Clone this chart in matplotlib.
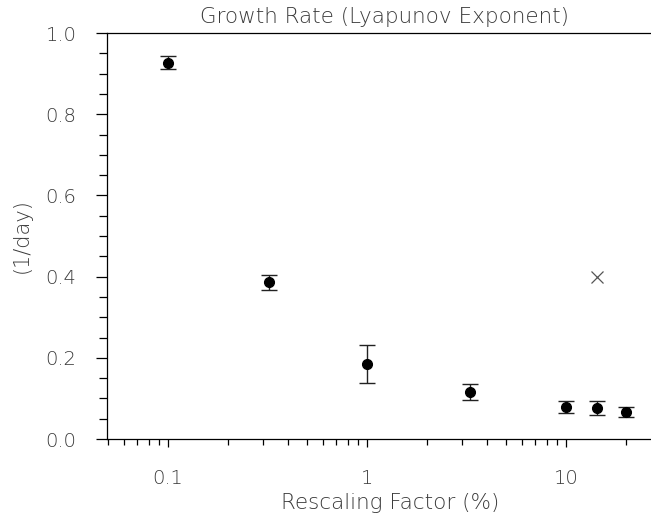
import matplotlib as mpl
mpl.use("Agg")
import matplotlib.pyplot as plt
from matplotlib.ticker import FixedLocator, FixedFormatter, MultipleLocator, LogLocator, NullFormatter
import numpy as np

# rescaling factor (%) and growth rate (1/day) with error bars
factor = [0.1, 0.32, 1.0, 3.3, 10.0, 14.3, 20.0]
rate = [0.927, 0.386, 0.185, 0.115, 0.079, 0.077, 0.067]
rate_err = [0.016, 0.018, 0.046, 0.020, 0.015, 0.017, 0.013]

# separate reference value shown with a cross
ref_factor = [14.3]
ref_rate = [0.40]

xtick_vals = [0.1, 1, 10]
xtick_labels = ["0.1", "1", "10"]

plt.rcParams['font.family'] = ['DejaVu Sans']
text_color = "#3a3a3a"
fw = 'light'

fig = plt.figure(figsize=(6.51, 5.19), dpi=100)
ax = fig.add_axes([0.1644, 0.1541, 0.8356, 0.7823])

ax.errorbar(factor, rate, yerr=rate_err, fmt='o', color='black', ms=7,
            ecolor='#222222', elinewidth=1.0, capsize=5.5, capthick=1.0)
ax.plot(ref_factor, ref_rate, 'x', color='#555555', ms=9, mew=0.9)

ax.set_xscale('log')
ax.set_xlim(0.0493, 26.7)
ax.set_ylim(0, 1.0)

ax.xaxis.set_major_locator(FixedLocator(xtick_vals))
ax.xaxis.set_major_formatter(FixedFormatter(xtick_labels))
ax.xaxis.set_minor_locator(LogLocator(base=10, subs=np.arange(2, 10)))
ax.xaxis.set_minor_formatter(NullFormatter())
ax.yaxis.set_major_locator(MultipleLocator(0.2))
ax.yaxis.set_minor_locator(MultipleLocator(0.05))
ax.yaxis.set_major_formatter(plt.FormatStrFormatter('%.1f'))

ax.spines['right'].set_visible(False)
for s in ['left', 'bottom', 'top']:
    ax.spines[s].set_linewidth(0.9)

ax.tick_params(axis='x', which='major', direction='out', length=6, width=0.9,
               pad=15.5, labelsize=14, labelcolor=text_color)
ax.tick_params(axis='x', which='minor', direction='out', length=4, width=0.9)
ax.tick_params(axis='y', which='major', direction='out', length=8, width=0.9,
               pad=14, labelsize=14, labelcolor=text_color)
ax.tick_params(axis='y', which='minor', direction='out', length=5.5, width=0.9)
for lab in ax.get_xticklabels() + ax.get_yticklabels():
    lab.set_fontweight(fw)

ax.set_xlabel("Rescaling Factor (%)", fontsize=15.5, color=text_color,
              labelpad=4, fontweight=fw)
ax.xaxis.label.set_x(0.52)
ax.set_ylabel("(1/day)", fontsize=15, color=text_color, labelpad=10,
              fontweight=fw)
ax.set_title("Growth Rate (Lyapunov Exponent)", fontsize=15.5, color=text_color,
             pad=7, fontweight=fw, x=0.51)

fig.savefig("out.png", dpi=100)
